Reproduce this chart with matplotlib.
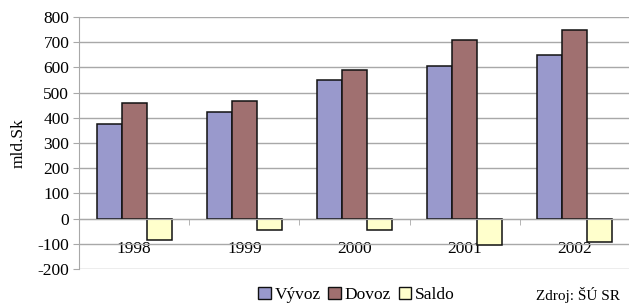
import matplotlib
matplotlib.use("Agg")
import matplotlib.pyplot as plt
import numpy as np
from matplotlib.patches import Patch

years = ["1998", "1999", "2000", "2001", "2002"]
vyvoz = [377, 422, 549, 604, 650]
dovoz = [459, 466, 589, 710, 748]
saldo = [-83, -44, -44, -106, -94]
yticks = [-200, -100, 0, 100, 200, 300, 400, 500, 600, 700, 800]

plt.rcParams['font.family'] = ['Liberation Serif', 'DejaVu Serif']

fig = plt.figure(figsize=(6.29, 3.04), dpi=100)
ax = fig.add_axes([79/629, 1-269/304, 551/629, 252/304])

x = np.arange(len(years))
w = 0.227
cols = ['#9999cc', '#a07070', '#ffffcc']
for i, (vals, c) in enumerate(zip([vyvoz, dovoz, saldo], cols)):
    ax.bar(x + (i - 1) * w, vals, w, color=c, edgecolor='#111111', linewidth=1.1, zorder=3)

ax.set_xlim(-0.5, len(years) - 0.5)
ax.set_ylim(-200, 800)
ax.set_yticks(yticks)
ax.set_yticklabels([str(v) if v >= 0 else '-' + str(-v) for v in yticks], fontsize=12.5)
ax.yaxis.grid(True, color='#a8a8a8', linewidth=1.0, zorder=0)
ax.tick_params(axis='y', length=4, color='#a8a8a8', pad=3)

ax.spines['top'].set_visible(False)
ax.spines['right'].set_visible(False)
ax.spines['left'].set_color('#a8a8a8')
ax.spines['bottom'].set_position(('data', 0))
ax.spines['bottom'].set_color('#a8a8a8')
ax.spines['bottom'].set_zorder(4)

ax.set_xticks(x)
ax.set_xticklabels(years, fontsize=12.5)
ax.set_xticks(np.arange(len(years) + 1) - 0.5, minor=True)
ax.tick_params(axis='x', which='major', length=0, pad=16)
ax.tick_params(axis='x', which='minor', length=4, color='#a8a8a8')

ax.set_ylabel('mld.Sk', fontsize=12.5, labelpad=8)

handles = [Patch(facecolor=c, edgecolor='#111111', linewidth=1.0) for c in cols]
fig.legend(handles, ['Vývoz', 'Dovoz', 'Saldo'], loc='center left',
           bbox_to_anchor=(258/629, 1-295/304), ncol=3, frameon=False,
           fontsize=12.5, handlelength=0.72, handleheight=0.72, handletextpad=0.22,
           columnspacing=0.45, borderpad=0, borderaxespad=0)
fig.text(620/629, 1-295/304, 'Zdroj: ŠÚ SR', fontsize=11, ha='right', va='center')

fig.savefig('out.png', dpi=100)
